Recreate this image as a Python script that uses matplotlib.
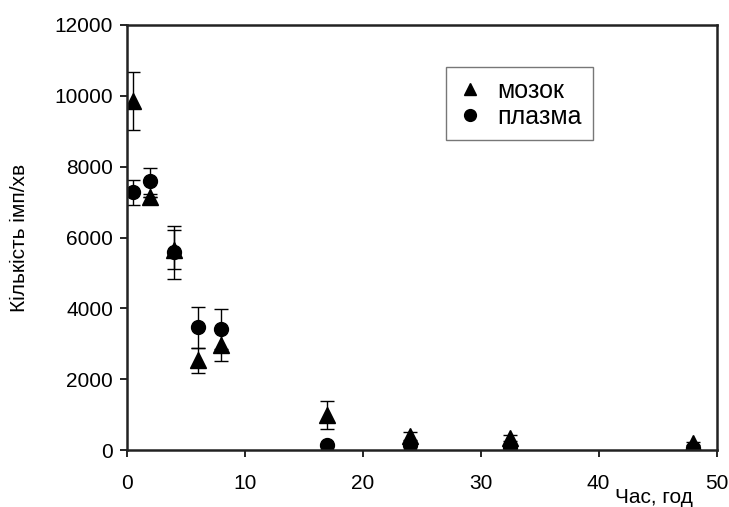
import matplotlib.pyplot as plt
import numpy as np

plt.rcParams['font.family'] = ['Liberation Sans', 'DejaVu Sans']

# мозок (triangles)
t_brain = [0.5, 2, 4, 6, 8, 17, 24, 32.5, 48]
brain = [9850, 7140, 5650, 2540, 2960, 990, 400, 350, 200]
brain_err = [830, 0, 550, 350, 450, 400, 100, 80, 40]

# плазма (circles)
t_plasma = [0.5, 2, 4, 6, 8, 17, 24, 32.5, 48]
plasma = [7280, 7590, 5580, 3470, 3420, 140, 150, 90, 50]
plasma_err = [350, 370, 750, 580, 560, 0, 0, 0, 0]

fig, ax = plt.subplots(figsize=(7.29, 5.07), dpi=100)
fig.subplots_adjust(left=0.174, right=0.983, top=0.951, bottom=0.112)

ax.errorbar(t_brain, brain, yerr=brain_err, fmt='^', color='black', ms=11,
            ecolor='black', elinewidth=1, capsize=5, capthick=1, label='мозок')
ax.errorbar(t_plasma, plasma, yerr=plasma_err, fmt='o', color='black', ms=10,
            ecolor='black', elinewidth=1, capsize=5, capthick=1, label='плазма')

ax.set_xlim(0, 50)
ax.set_ylim(0, 12000)
ax.set_xticks(np.arange(0, 51, 10))
ax.set_yticks(np.arange(0, 12001, 2000))
ax.tick_params(labelsize=15, direction='out', length=5, width=1.2)
ax.tick_params(axis='x', pad=12)
ax.tick_params(axis='y', pad=5)
for s in ax.spines.values():
    s.set_linewidth(1.8)
    s.set_color('#222222')

ax.set_ylabel('Кількість імп/хв', fontsize=15, labelpad=18)
ax.text(41.4, -1330, 'Час, год', fontsize=15, ha='left', va='center')

handles, labels = ax.get_legend_handles_labels()
handles = [h[0] for h in handles]
leg = ax.legend(handles, labels, loc='upper left', bbox_to_anchor=(0.542, 0.9),
                fontsize=18, frameon=True, fancybox=False, handletextpad=0.6,
                handlelength=1.0, borderpad=0.45, borderaxespad=0, labelspacing=0.1,
                markerscale=0.85)
leg.get_frame().set_edgecolor('#555555')
leg.get_frame().set_linewidth(1)

plt.savefig('out.png', dpi=100)
